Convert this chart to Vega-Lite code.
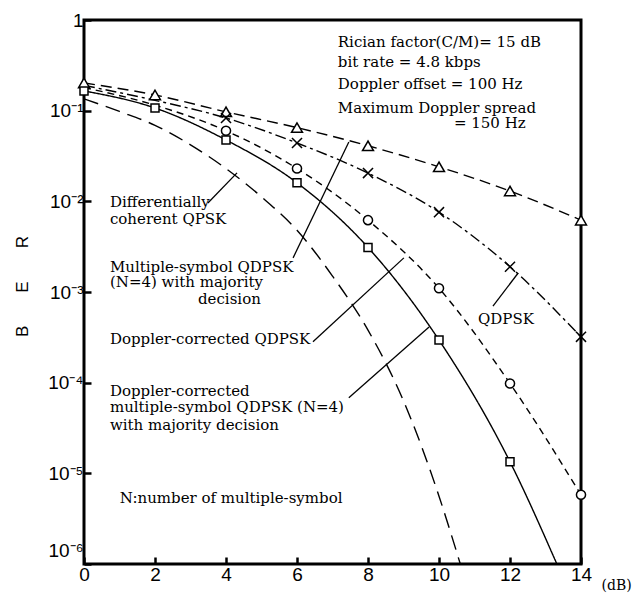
{
  "$schema": "https://vega.github.io/schema/vega-lite/v6.json",
  "width": 497,
  "height": 544,
  "autosize": "none",
  "padding": {"left": 84, "top": 20, "right": 55, "bottom": 29},
  "background": "white",
  "config": {
    "view": {"stroke": "black", "strokeWidth": 3, "fill": null},
    "axis": {"domain": false, "grid": false, "ticks": true, "tickColor": "black", "labelColor": "black", "titleColor": "black"}
  },
  "datasets": {
    "curves": [
      {"series": "tri", "x": 0, "y": 0.202},
      {"series": "tri", "x": 2, "y": 0.149},
      {"series": "tri", "x": 4, "y": 0.097},
      {"series": "tri", "x": 6, "y": 0.065},
      {"series": "tri", "x": 8, "y": 0.041},
      {"series": "tri", "x": 10, "y": 0.024},
      {"series": "tri", "x": 12, "y": 0.013},
      {"series": "tri", "x": 14, "y": 0.0062},
      {"series": "cross", "x": 0, "y": 0.19},
      {"series": "cross", "x": 2, "y": 0.13},
      {"series": "cross", "x": 4, "y": 0.083},
      {"series": "cross", "x": 6, "y": 0.044},
      {"series": "cross", "x": 8, "y": 0.0205},
      {"series": "cross", "x": 10, "y": 0.0076},
      {"series": "cross", "x": 12, "y": 0.0019},
      {"series": "cross", "x": 14, "y": 0.00032},
      {"series": "circ", "x": 0, "y": 0.18},
      {"series": "circ", "x": 2, "y": 0.115},
      {"series": "circ", "x": 4, "y": 0.06},
      {"series": "circ", "x": 6, "y": 0.023},
      {"series": "circ", "x": 8, "y": 0.0062},
      {"series": "circ", "x": 10, "y": 0.0011},
      {"series": "circ", "x": 12, "y": 0.000098},
      {"series": "circ", "x": 14, "y": 0.0000058},
      {"series": "sq", "x": 0, "y": 0.165},
      {"series": "sq", "x": 2, "y": 0.107},
      {"series": "sq", "x": 4, "y": 0.0475},
      {"series": "sq", "x": 6, "y": 0.016},
      {"series": "sq", "x": 8, "y": 0.0031},
      {"series": "sq", "x": 10, "y": 0.000295},
      {"series": "sq", "x": 12, "y": 0.0000134},
      {"series": "sq", "x": 13.32, "y": 0.000001},
      {"series": "dc", "x": 0, "y": 0.135},
      {"series": "dc", "x": 1, "y": 0.098},
      {"series": "dc", "x": 2, "y": 0.069},
      {"series": "dc", "x": 3, "y": 0.042},
      {"series": "dc", "x": 4, "y": 0.023},
      {"series": "dc", "x": 5, "y": 0.0112},
      {"series": "dc", "x": 6, "y": 0.0048},
      {"series": "dc", "x": 7, "y": 0.0015},
      {"series": "dc", "x": 8, "y": 0.00038},
      {"series": "dc", "x": 9, "y": 0.000063},
      {"series": "dc", "x": 10, "y": 0.0000056},
      {"series": "dc", "x": 10.6, "y": 0.000001}
    ],
    "markers": [
      {"series": "tri", "x": 0, "y": 0.202},
      {"series": "tri", "x": 2, "y": 0.149},
      {"series": "tri", "x": 4, "y": 0.097},
      {"series": "tri", "x": 6, "y": 0.065},
      {"series": "tri", "x": 8, "y": 0.041},
      {"series": "tri", "x": 10, "y": 0.024},
      {"series": "tri", "x": 12, "y": 0.013},
      {"series": "tri", "x": 14, "y": 0.0062},
      {"series": "cross", "x": 4, "y": 0.083},
      {"series": "cross", "x": 6, "y": 0.044},
      {"series": "cross", "x": 8, "y": 0.0205},
      {"series": "cross", "x": 10, "y": 0.0076},
      {"series": "cross", "x": 12, "y": 0.0019},
      {"series": "cross", "x": 14, "y": 0.00032},
      {"series": "circ", "x": 4, "y": 0.06},
      {"series": "circ", "x": 6, "y": 0.023},
      {"series": "circ", "x": 8, "y": 0.0062},
      {"series": "circ", "x": 10, "y": 0.0011},
      {"series": "circ", "x": 12, "y": 0.000098},
      {"series": "circ", "x": 14, "y": 0.0000058},
      {"series": "sq", "x": 0, "y": 0.165},
      {"series": "sq", "x": 2, "y": 0.107},
      {"series": "sq", "x": 4, "y": 0.0475},
      {"series": "sq", "x": 6, "y": 0.016},
      {"series": "sq", "x": 8, "y": 0.0031},
      {"series": "sq", "x": 10, "y": 0.000295},
      {"series": "sq", "x": 12, "y": 0.0000134}
    ],
    "labels": [
      {"x": 7.15, "y": 0.504, "text": "Rician factor(C/M)= 15 dB"},
      {"x": 7.15, "y": 0.303, "text": "bit rate = 4.8 kbps"},
      {"x": 7.15, "y": 0.173, "text": "Doppler offset = 100 Hz"},
      {"x": 7.15, "y": 0.0944, "text": "Maximum Doppler spread"},
      {"x": 10.42, "y": 0.0645, "text": "= 150 Hz"},
      {"x": 0.73, "y": 0.0087, "text": "Differentially"},
      {"x": 0.73, "y": 0.0056, "text": "coherent QPSK"},
      {"x": 0.73, "y": 0.00166, "text": "Multiple-symbol QDPSK"},
      {"x": 0.73, "y": 0.00114, "text": "(N=4) with majority"},
      {"x": 3.21, "y": 0.00074, "text": "decision"},
      {"x": 0.73, "y": 0.00027, "text": "Doppler-corrected QDPSK"},
      {"x": 0.73, "y": 0.000071, "text": "Doppler-corrected"},
      {"x": 0.73, "y": 0.000047, "text": "multiple-symbol QDPSK (N=4)"},
      {"x": 0.73, "y": 0.00003, "text": "with majority decision"},
      {"x": 1.01, "y": 0.0000047, "text": "N:number of multiple-symbol"},
      {"x": 11.1, "y": 0.00044, "text": "QDPSK"}
    ],
    "leaders": [
      {"x": 3.49, "y": 0.0096, "x2": 4.31, "y2": 0.0206},
      {"x": 5.89, "y": 0.00238, "x2": 7.46, "y2": 0.0452},
      {"x": 6.45, "y": 0.000282, "x2": 9.01, "y2": 0.00238},
      {"x": 7.46, "y": 0.000068, "x2": 9.72, "y2": 0.000412},
      {"x": 11.52, "y": 0.0007, "x2": 12.23, "y2": 0.00162}
    ]
  },
  "layer": [
    {
      "data": {"name": "curves"},
      "mark": {"type": "line", "interpolate": "monotone", "color": "black", "strokeWidth": 1.4, "clip": true},
      "encoding": {
        "x": {
          "field": "x", "type": "quantitative",
          "scale": {"domain": [0, 14], "nice": false, "zero": false},
          "axis": {
            "values": [0, 2, 4, 6, 8, 10, 12, 14],
            "labelFont": "Liberation Sans Narrow, Liberation Sans",
            "labelFontSize": 19,
            "labelPadding": 8,
            "tickSize": -7,
            "tickWidth": 2.5,
            "labelFlush": false,
            "title": "(dB)",
            "titleFont": "DejaVu Serif",
            "titleFontSize": 14,
            "titleFontWeight": "normal",
            "titleAnchor": "start",
            "titleAlign": "left",
            "titleBaseline": "alphabetic",
            "titleX": 517,
            "titleY": 25
          }
        },
        "y": {
          "field": "y", "type": "quantitative",
          "scale": {"type": "log", "domain": [0.000001, 1], "nice": false},
          "axis": {
            "values": [1, 0.1, 0.01, 0.001, 0.0001, 0.00001, 0.000001],
            "labelExpr": "datum.value >= 0.99 ? '1' : '10⁻' + ['', '¹', '²', '³', '⁴', '⁵', '⁶'][round(-log(datum.value) / LN10)]",
            "labelFont": "Liberation Sans Narrow, Liberation Sans",
            "labelFontSize": 19,
            "labelPadding": 8,
            "labelFlush": false,
            "labelBaseline": "middle",
            "labelOffset": {"condition": {"test": "datum.value < 0.000002", "value": -14}, "value": 0},
            "tickSize": -7,
            "tickWidth": 2.5,
            "title": "B\u00a0\u00a0\u00a0\u00a0\u00a0\u00a0\u00a0E\u00a0\u00a0\u00a0\u00a0\u00a0\u00a0\u00a0R",
            "titleFont": "Liberation Sans",
            "titleFontSize": 17,
            "titleFontWeight": "normal",
            "titleAngle": -90,
            "titleBaseline": "middle",
            "titleAlign": "center",
            "titleX": -62,
            "titleY": 266
          }
        },
        "detail": {"field": "series"},
        "strokeDash": {
          "field": "series", "type": "nominal", "legend": null,
          "scale": {
            "domain": ["tri", "cross", "circ", "sq", "dc"],
            "range": [[11, 6], [11, 4, 3, 4], [7, 5], [1, 0], [15, 8]]
          }
        }
      }
    },
    {
      "data": {"name": "leaders"},
      "mark": {"type": "rule", "color": "black", "strokeWidth": 1.3},
      "encoding": {
        "x": {"field": "x", "type": "quantitative"},
        "y": {"field": "y", "type": "quantitative"},
        "x2": {"field": "x2"},
        "y2": {"field": "y2"}
      }
    },
    {
      "data": {"name": "markers"},
      "mark": {"type": "point", "filled": true, "fill": "white", "stroke": "black", "strokeWidth": 1.5, "opacity": 1},
      "encoding": {
        "x": {"field": "x", "type": "quantitative"},
        "y": {"field": "y", "type": "quantitative"},
        "shape": {
          "field": "series", "type": "nominal", "legend": null,
          "scale": {
            "domain": ["tri", "cross", "circ", "sq"],
            "range": ["triangle-up", "M-1,-1L1,1M-1,1L1,-1", "circle", "square"]
          }
        },
        "size": {
          "field": "series", "type": "nominal", "legend": null,
          "scale": {
            "domain": ["tri", "cross", "circ", "sq"],
            "range": [120, 64, 64, 100]
          }
        }
      }
    },
    {
      "data": {"name": "labels"},
      "mark": {"type": "text", "align": "left", "baseline": "alphabetic", "font": "DejaVu Serif", "fontSize": 15, "color": "black"},
      "encoding": {
        "x": {"field": "x", "type": "quantitative"},
        "y": {"field": "y", "type": "quantitative"},
        "text": {"field": "text"}
      }
    }
  ]
}
